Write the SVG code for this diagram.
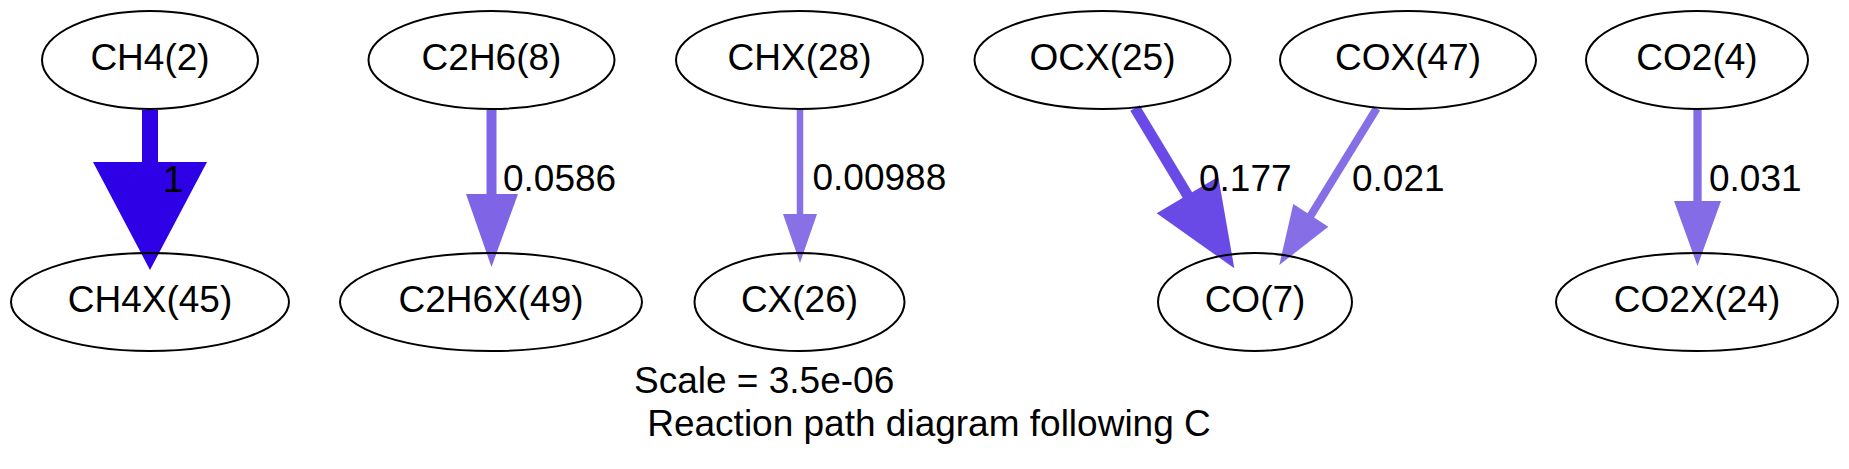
<svg xmlns="http://www.w3.org/2000/svg" width="1849" height="469" viewBox="0 0 1849 469">
<style>
text{font-family:"Liberation Sans",Arial,Helvetica,sans-serif;font-size:37px;fill:#000}
.n ellipse{fill:none;stroke:#000;stroke-width:2}
.n text{text-anchor:middle}
.e line{fill:none;stroke-linecap:butt}
</style>
<rect width="1849" height="469" fill="#fff"/>
<g id="connectors" class="e">
  <g id="e_ch4">
    <line x1="150" y1="110" x2="150" y2="163" stroke="#2e00e6" stroke-width="16"/>
    <polygon points="93,162 207,162 150,270" fill="#2e00e6"/>
    <text x="163" y="192">1</text>
  </g>
  <g id="e_c2h6">
    <line x1="491.5" y1="110" x2="491.5" y2="195" stroke="#7f65e6" stroke-width="10"/>
    <polygon points="466,194 518,194 491.5,267" fill="#7f65e6"/>
    <text x="503" y="191">0.0586</text>
  </g>
  <g id="e_chx">
    <line x1="800" y1="110" x2="800" y2="215" stroke="#8870e6" stroke-width="6.5"/>
    <polygon points="783,214 817,214 800,263" fill="#8870e6"/>
    <text x="812.5" y="190">0.00988</text>
  </g>
  <g id="e_ocx">
    <line x1="1135" y1="108" x2="1188" y2="196" stroke="#6a4ae6" stroke-width="11"/>
    <polygon points="1156.7,213.3 1218.3,176.7 1234.3,268.3" fill="#6a4ae6"/>
    <text x="1199" y="191">0.177</text>
  </g>
  <g id="e_cox">
    <line x1="1376.7" y1="108.3" x2="1310.5" y2="216" stroke="#866ee6" stroke-width="8"/>
    <polygon points="1293.3,204 1328.3,226.7 1279.3,265" fill="#866ee6"/>
    <text x="1352" y="191">0.021</text>
  </g>
  <g id="e_co2">
    <line x1="1697.5" y1="110" x2="1697.5" y2="202" stroke="#846ce6" stroke-width="8.3"/>
    <polygon points="1674,201 1721,201 1697.5,266" fill="#846ce6"/>
    <text x="1709" y="191">0.031</text>
  </g>
</g>
<g id="CH4_2" class="n"><ellipse cx="150" cy="60" rx="108" ry="49"/><text x="150" y="70">CH4(2)</text></g>
<g id="C2H6_8" class="n"><ellipse cx="491.5" cy="60" rx="123" ry="49"/><text x="491.5" y="70">C2H6(8)</text></g>
<g id="CHX_28" class="n"><ellipse cx="799.5" cy="60" rx="123.5" ry="49"/><text x="799.5" y="70">CHX(28)</text></g>
<g id="OCX_25" class="n"><ellipse cx="1102.5" cy="60" rx="128" ry="49"/><text x="1102.5" y="70">OCX(25)</text></g>
<g id="COX_47" class="n"><ellipse cx="1408" cy="60" rx="128" ry="49"/><text x="1408" y="70">COX(47)</text></g>
<g id="CO2_4" class="n"><ellipse cx="1697" cy="60" rx="111" ry="49"/><text x="1697" y="70">CO2(4)</text></g>
<g id="CH4X_45" class="n"><ellipse cx="150" cy="302" rx="139" ry="49"/><text x="150" y="312">CH4X(45)</text></g>
<g id="C2H6X_49" class="n"><ellipse cx="491" cy="302" rx="151" ry="49"/><text x="491" y="312">C2H6X(49)</text></g>
<g id="CX_26" class="n"><ellipse cx="799.5" cy="302" rx="105" ry="49"/><text x="799.5" y="312">CX(26)</text></g>
<g id="CO_7" class="n"><ellipse cx="1255" cy="302" rx="97" ry="49"/><text x="1255" y="312">CO(7)</text></g>
<g id="CO2X_24" class="n"><ellipse cx="1697" cy="302" rx="141" ry="49"/><text x="1697" y="312">CO2X(24)</text></g>
<g id="graph_label">
  <text x="634" y="393">Scale = 3.5e-06</text>
  <text x="929" y="436" text-anchor="middle">Reaction path diagram following C</text>
</g>
</svg>
